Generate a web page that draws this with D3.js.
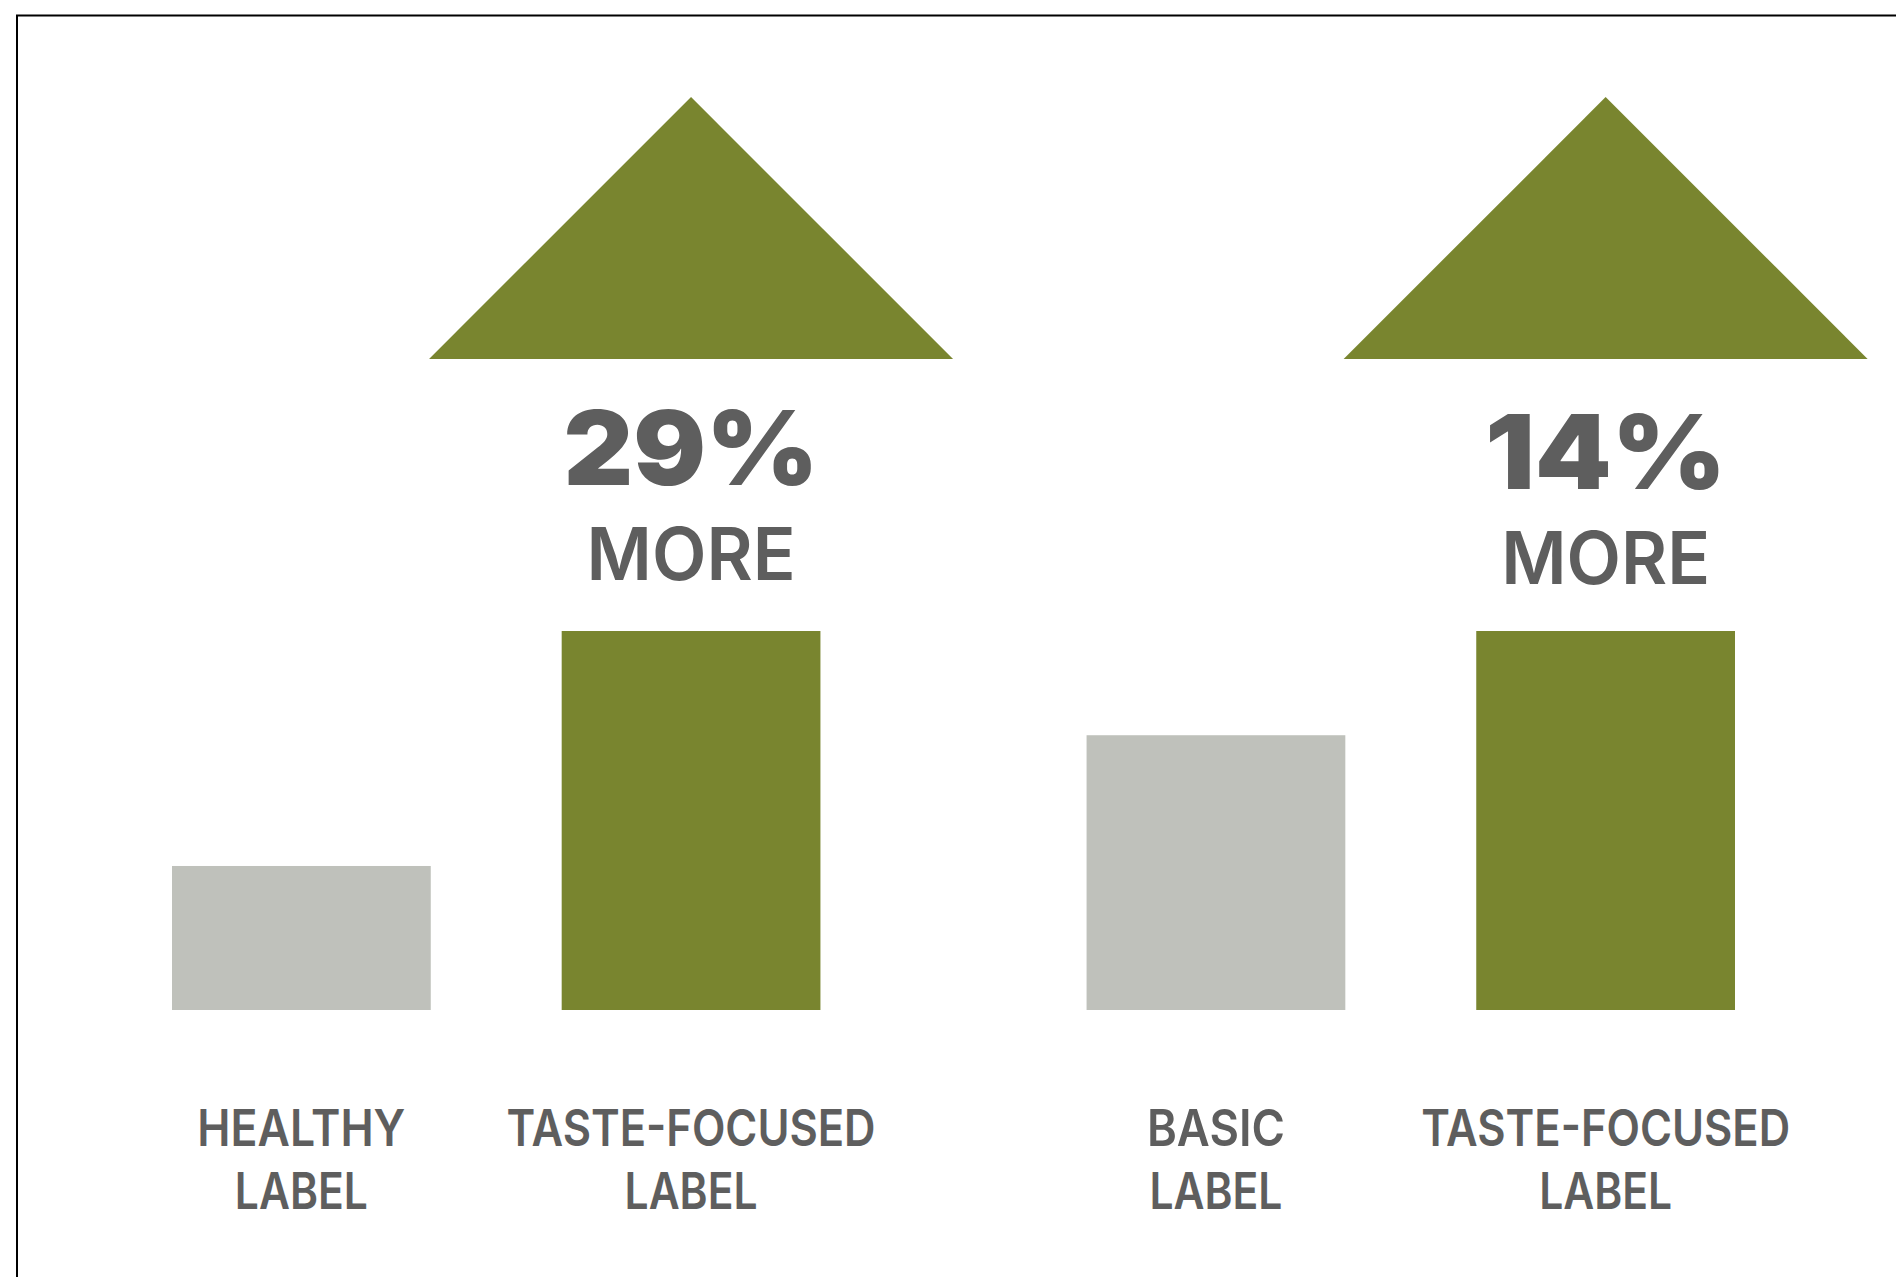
<!DOCTYPE html>
<html>
<head>
<meta charset="utf-8">
<script src="https://cdn.jsdelivr.net/npm/d3@7"></script>
<style>
  html, body { margin: 0; padding: 0; background: #ffffff; }
  svg { display: block; }
</style>
</head>
<body>
<script>
// Comparison groups and their bars
const groups = ["health", "basic"];
const barNames = ["HEALTHY|LABEL", "TASTE-FOCUSED|LABEL", "BASIC|LABEL", "TASTE-FOCUSED|LABEL"];
const barGroup = ["health", "health", "basic", "basic"];
const barSlot = ["control", "taste", "control", "taste"];
const barValues = [38, 100, 72.5, 100];
// Uplift of the taste-focused label within each group
const upliftGroups = ["health", "basic"];
const upliftText = ["29%", "14%"];

const W = 1896, H = 1277;
const GREEN = "#79852f", GREY = "#bfc1bb", INK = "#5e5e5e";
const FONT = "Inter, Lato, 'Noto Sans', sans-serif";

const svg = d3.select("body").append("svg")
  .attr("width", W).attr("height", H);

svg.append("rect").attr("width", W).attr("height", H).attr("fill", "#fff");

// frame (runs past the right and bottom edges)
svg.append("rect")
  .attr("x", 17).attr("y", 15.5)
  .attr("width", W + 20).attr("height", H + 20)
  .attr("fill", "none").attr("stroke", "#000").attr("stroke-width", 2);

const x0 = d3.scaleBand().domain(groups).range([172, 1735]).paddingInner(0.291).paddingOuter(0);
const x1 = d3.scaleBand().domain(["control", "taste"]).range([0, x0.bandwidth()]).paddingInner(0.336).paddingOuter(0);
const y = d3.scaleLinear().domain([0, 100]).range([1010, 631]);

const bars = barValues.map((v, i) => ({
  value: v, group: barGroup[i], slot: barSlot[i], name: barNames[i]
}));
const barX = d => x0(d.group) + x1(d.slot);
const barCx = d => barX(d) + x1.bandwidth() / 2;

svg.append("g").selectAll("rect").data(bars).join("rect")
  .attr("x", barX)
  .attr("y", d => y(d.value))
  .attr("width", x1.bandwidth())
  .attr("height", d => y(0) - y(d.value))
  .attr("fill", d => d.slot === "taste" ? GREEN : GREY);

// category labels, two lines each
const lineWidths = {
  "HEALTHY": 208, "LABEL": 133, "TASTE-FOCUSED": 369, "BASIC": 138
};
const lab = svg.append("g").selectAll("text").data(bars).join("text")
  .attr("text-anchor", "middle")
  .attr("font-family", FONT)
  .attr("font-weight", 600)
  .attr("font-size", 51)
  .attr("fill", INK);
lab.each(function(d) {
  const t = d3.select(this);
  d.name.split("|").forEach((ln, j) => {
    t.append("tspan")
      .attr("x", barCx(d))
      .attr("y", j === 0 ? 1146 : 1209)
      .attr("textLength", lineWidths[ln])
      .attr("lengthAdjust", "spacingAndGlyphs")
      .text(ln);
  });
});

// uplift arrows and callouts above each taste-focused bar
const uplift = upliftGroups.map((g, i) => ({ group: g, text: upliftText[i] }));
const cxOf = g => x0(g) + x1("taste") + x1.bandwidth() / 2;
const apexY = 97, baseY = 359, half = 262;

svg.append("g").selectAll("path").data(uplift).join("path")
  .attr("d", d => {
    const cx = cxOf(d.group);
    return d3.line()([[cx - half, baseY], [cx, apexY], [cx + half, baseY]]) + "Z";
  })
  .attr("fill", GREEN);

svg.append("g").selectAll("text").data(uplift).join("text")
  .attr("x", d => cxOf(d.group))
  .attr("y", (d, i) => i === 0 ? 485 : 489)
  .attr("text-anchor", "middle")
  .attr("font-family", FONT)
  .attr("font-weight", 900)
  .attr("font-size", 103)
  .attr("fill", INK)
  .attr("textLength", (d, i) => i === 0 ? 255 : 241)
  .attr("lengthAdjust", "spacingAndGlyphs")
  .text(d => d.text);

svg.append("g").selectAll("text").data(uplift).join("text")
  .attr("x", d => cxOf(d.group))
  .attr("y", (d, i) => i === 0 ? 580 : 584)
  .attr("text-anchor", "middle")
  .attr("font-family", FONT)
  .attr("font-weight", 600)
  .attr("font-size", 73)
  .attr("fill", INK)
  .attr("textLength", 209)
  .attr("lengthAdjust", "spacingAndGlyphs")
  .text("MORE");
</script>
</body>
</html>
